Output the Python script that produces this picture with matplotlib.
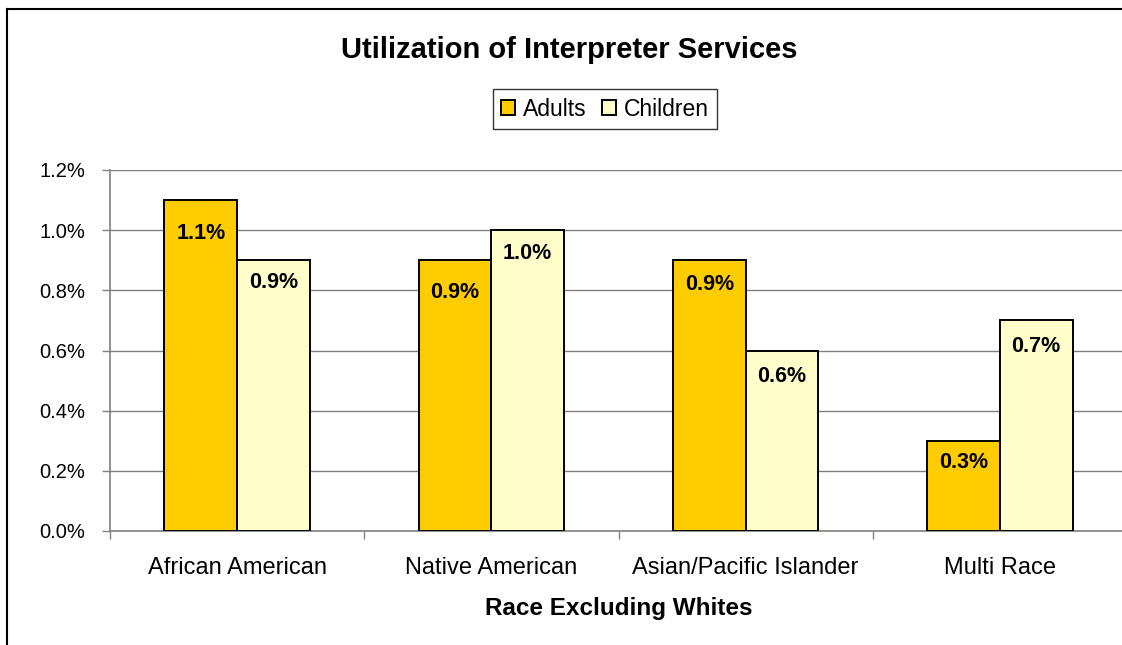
import matplotlib
matplotlib.use('Agg')
import matplotlib.pyplot as plt
import numpy as np
from matplotlib.lines import Line2D
from matplotlib.ticker import FuncFormatter, FixedLocator

# ── Data ───────────────────────────────────────────────────────────────
categories = ['African American', 'Native American', 'Asian/Pacific Islander', 'Multi Race']
adults = [1.1, 0.9, 0.9, 0.3]      # percent
children = [0.9, 1.0, 0.6, 0.7]    # percent
series_names = ['Adults', 'Children']
y_ticks = [0.0, 0.2, 0.4, 0.6, 0.8, 1.0, 1.2]

# ── Style ──────────────────────────────────────────────────────────────
FONT = 'Liberation Sans'
ADULT_COLOR = '#FFCC00'
CHILD_COLOR = '#FFFFCC'
GRID = '#808080'
BAR_W = 0.286
# how far each value label sits below its bar top (pixels), as in the source
drop_adults = [33, 32, 24, 22]
drop_children = [22, 23, 26, 26]

plt.rcParams['font.family'] = [FONT, 'DejaVu Sans']

W, H = 1122, 645
fig = plt.figure(figsize=(W / 100, H / 100), dpi=100)
fig.set_facecolor('white')

# axes: left 110px, right ~1127px (runs past the image edge), top 170px, bottom 531px
ax = fig.add_axes([110 / W, 1 - 531 / H, 1017 / W, 361 / H])

x = np.arange(len(categories)) + 0.5
b1 = ax.bar(x - BAR_W / 2, adults, BAR_W, color=ADULT_COLOR, edgecolor='black',
            linewidth=1.4, label=series_names[0], zorder=3)
b2 = ax.bar(x + BAR_W / 2, children, BAR_W, color=CHILD_COLOR, edgecolor='black',
            linewidth=1.4, label=series_names[1], zorder=3)

for bars, drops in ((b1, drop_adults), (b2, drop_children)):
    for rect, d in zip(bars, drops):
        v = rect.get_height()
        ax.annotate(f'{v:.1f}%', (rect.get_x() + rect.get_width() / 2, v),
                    xytext=(0, -d * 0.72), textcoords='offset points',
                    ha='center', va='center', fontsize=15.5, fontweight='bold',
                    color='black', zorder=4)

ax.set_xlim(0, len(categories))
ax.set_ylim(0, 1.2)
ax.yaxis.set_major_locator(FixedLocator(y_ticks))
ax.yaxis.set_major_formatter(FuncFormatter(lambda v, _: f'{v:.1f}%'))
ax.grid(axis='y', color=GRID, linewidth=1.0, zorder=0)

# group boundary ticks (major), category labels at centres (minor)
ax.xaxis.set_major_locator(FixedLocator(np.arange(len(categories) + 1)))
ax.xaxis.set_major_formatter(FuncFormatter(lambda v, _: ''))
ax.set_xticks(x, minor=True)
ax.set_xticklabels(categories, minor=True)
ax.tick_params(axis='x', which='major', direction='out', length=6, color=GRID, width=1)
ax.tick_params(axis='x', which='minor', length=0, pad=19, labelsize=17)
ax.tick_params(axis='y', direction='out', length=6, color=GRID, width=1,
               labelsize=14.5, pad=12)

for s in ('top', 'right'):
    ax.spines[s].set_visible(False)
for s in ('left', 'bottom'):
    ax.spines[s].set_color(GRID)
    ax.spines[s].set_linewidth(1.2)

ax.set_xlabel('Race Excluding Whites', fontsize=17.5, fontweight='bold', labelpad=13)

fig.text(569 / W, 1 - 58 / H, 'Utilization of Interpreter Services', ha='center',
         va='baseline', fontsize=21, fontweight='bold')

leg = fig.legend(loc='center', bbox_to_anchor=(605 / W, 1 - 109 / H), ncol=2,
                 frameon=True, fancybox=False, edgecolor='black', fontsize=16.5,
                 handlelength=0.6, handleheight=0.6, handletextpad=0.35,
                 columnspacing=0.7, borderpad=0.35, borderaxespad=0)
leg.get_frame().set_linewidth(1.0)

# outer chart border (top and left edges visible in the source crop)
fig.add_artist(Line2D([7 / W, 1], [1 - 9 / H, 1 - 9 / H], color='black', linewidth=1.5,
                      transform=fig.transFigure))
fig.add_artist(Line2D([7 / W, 7 / W], [0, 1 - 9 / H], color='black', linewidth=1.5,
                      transform=fig.transFigure))

fig.savefig('out.png', dpi=100, facecolor='white')
